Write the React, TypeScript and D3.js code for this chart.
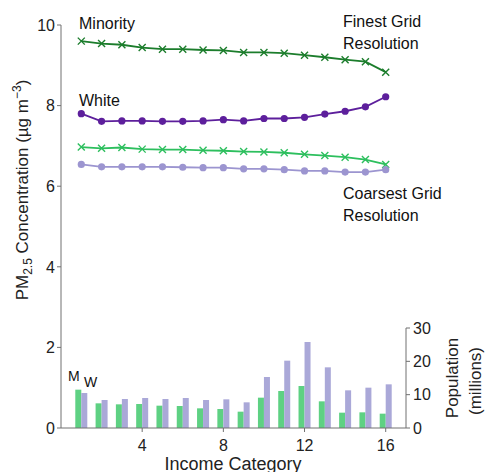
import React from "react";
import * as d3 from "d3";

const categories = [1, 2, 3, 4, 5, 6, 7, 8, 9, 10, 11, 12, 13, 14, 15, 16];
const minorityFine = [9.6, 9.54, 9.51, 9.44, 9.4, 9.4, 9.38, 9.37, 9.32, 9.32, 9.3, 9.25, 9.2, 9.14, 9.09, 8.83];
const whiteFine = [7.8, 7.61, 7.62, 7.62, 7.61, 7.61, 7.62, 7.65, 7.62, 7.68, 7.68, 7.71, 7.79, 7.86, 7.97, 8.22];
const minorityCoarse = [6.97, 6.94, 6.96, 6.92, 6.91, 6.91, 6.89, 6.88, 6.86, 6.85, 6.83, 6.79, 6.76, 6.72, 6.66, 6.54];
const whiteCoarse = [6.54, 6.48, 6.48, 6.48, 6.48, 6.47, 6.46, 6.46, 6.43, 6.43, 6.41, 6.38, 6.38, 6.35, 6.35, 6.41];
const minorityPop = [11.5, 7.4, 7.1, 7.2, 6.7, 6.6, 5.9, 5.7, 4.9, 9.1, 11.1, 12.6, 8.0, 4.6, 4.7, 4.3];
const whitePop = [10.5, 8.4, 8.7, 9.0, 8.7, 9.0, 8.4, 8.6, 7.7, 15.3, 20.2, 25.8, 18.2, 11.3, 12.1, 13.1];
const xTicks = [4, 8, 12, 16];
const yTicks = [0, 2, 4, 6, 8, 10];
const popTicks = [0, 10, 20, 30];

const FONT = "'Liberation Sans', Arial, sans-serif";
const C = {
  darkGreen: "#1c7d2c",
  lightGreen: "#2dbf5e",
  darkPurple: "#5d1f9c",
  lightPurple: "#9c95d0",
  barGreen: "#5ed183",
  barPurple: "#aaa8d8",
  axis: "#707070",
};

export default function App() {
  const W = 485, H = 472;
  const x = d3.scaleLinear().domain([0, 17]).range([61, 406]);
  const y = d3.scaleLinear().domain([0, 10]).range([428, 25]);
  const yp = d3.scaleLinear().domain([0, 30]).range([428, 328]);
  const bw = 6;

  const line = d3
    .line<number>()
    .x((_, i) => x(categories[i]))
    .y((d) => y(d));

  const series = [
    { data: minorityFine, color: C.darkGreen, marker: "x" },
    { data: whiteFine, color: C.darkPurple, marker: "o" },
    { data: minorityCoarse, color: C.lightGreen, marker: "x" },
    { data: whiteCoarse, color: C.lightPurple, marker: "o" },
  ];

  return (
    <svg width={W} height={H} style={{ position: "absolute", left: 0, top: 0 }} fontFamily={FONT}>
      {/* bars */}
      {categories.map((c, i) => (
        <g key={"b" + c}>
          <rect x={x(c) - bw} y={yp(minorityPop[i])} width={bw} height={yp(0) - yp(minorityPop[i])} fill={C.barGreen} />
          <rect x={x(c)} y={yp(whitePop[i])} width={bw} height={yp(0) - yp(whitePop[i])} fill={C.barPurple} />
        </g>
      ))}
      {/* lines */}
      {series.map((s, si) => (
        <g key={"s" + si}>
          <path d={line(s.data) || ""} fill="none" stroke={s.color} strokeWidth={1.8} />
          {s.data.map((v, i) =>
            s.marker === "o" ? (
              <circle key={i} cx={x(categories[i])} cy={y(v)} r={3.6} fill={s.color} />
            ) : (
              <path
                key={i}
                d={`M${x(categories[i]) - 3.5},${y(v) - 3.5}L${x(categories[i]) + 3.5},${y(v) + 3.5}M${x(categories[i]) - 3.5},${y(v) + 3.5}L${x(categories[i]) + 3.5},${y(v) - 3.5}`}
                stroke={s.color}
                strokeWidth={1.4}
              />
            )
          )}
        </g>
      ))}
      {/* left axis */}
      <line x1={x(0)} x2={x(0)} y1={y(10)} y2={y(0)} stroke={C.axis} strokeWidth={1} />
      {yTicks.map((t) => (
        <g key={"y" + t}>
          <line x1={x(0) - 4} x2={x(0)} y1={y(t)} y2={y(t)} stroke={C.axis} />
          <text x={x(0) - 6} y={y(t)} dy="0.36em" textAnchor="end" fontSize={16} fill="#222">{t}</text>
        </g>
      ))}
      {/* bottom axis */}
      <line x1={x(0)} x2={x(17)} y1={y(0)} y2={y(0)} stroke={C.axis} strokeWidth={1} />
      {xTicks.map((t) => (
        <g key={"x" + t}>
          <line x1={x(t)} x2={x(t)} y1={y(0)} y2={y(0) + 4} stroke={C.axis} />
          <text x={x(t)} y={451} textAnchor="middle" fontSize={16} fill="#222">{t}</text>
        </g>
      ))}
      {/* right axis */}
      <line x1={x(17)} x2={x(17)} y1={yp(30)} y2={yp(0)} stroke={C.axis} strokeWidth={1} />
      {popTicks.map((t) => (
        <g key={"p" + t}>
          <line x1={x(17)} x2={x(17) + 4} y1={yp(t)} y2={yp(t)} stroke={C.axis} />
          <text x={x(17) + 7} y={yp(t)} dy="0.36em" textAnchor="start" fontSize={16} fill="#222">{t}</text>
        </g>
      ))}
      {/* axis titles */}
      <text x={233} y={470} textAnchor="middle" fontSize={18} fill="#222">Income Category</text>
      <text transform="translate(28,190) rotate(-90)" textAnchor="middle" fontSize={17} fill="#222">
        PM<tspan fontSize={12} dy={4}>2.5</tspan>
        <tspan dy={-4}> Concentration (µg m</tspan>
        <tspan fontSize={12} dy={-7}>−3</tspan>
        <tspan dy={7}>)</tspan>
      </text>
      <text transform="translate(458,378) rotate(-90)" textAnchor="middle" fontSize={17} fill="#222">Population</text>
      <text transform="translate(481,381) rotate(-90)" textAnchor="middle" fontSize={17} fill="#222">(millions)</text>
      {/* annotations */}
      <text x={79} y={29} fontSize={16} fill="#111">Minority</text>
      <text x={79} y={106} fontSize={16} fill="#111">White</text>
      <text x={343} y={27} fontSize={16} fill="#111">Finest Grid</text>
      <text x={343} y={49} fontSize={16} fill="#111">Resolution</text>
      <text x={343} y={199} fontSize={16} fill="#111">Coarsest Grid</text>
      <text x={343} y={221} fontSize={16} fill="#111">Resolution</text>
      <text x={68} y={381} fontSize={14} fill="#111">M</text>
      <text x={84} y={387} fontSize={14} fill="#111">W</text>
    </svg>
  );
}
